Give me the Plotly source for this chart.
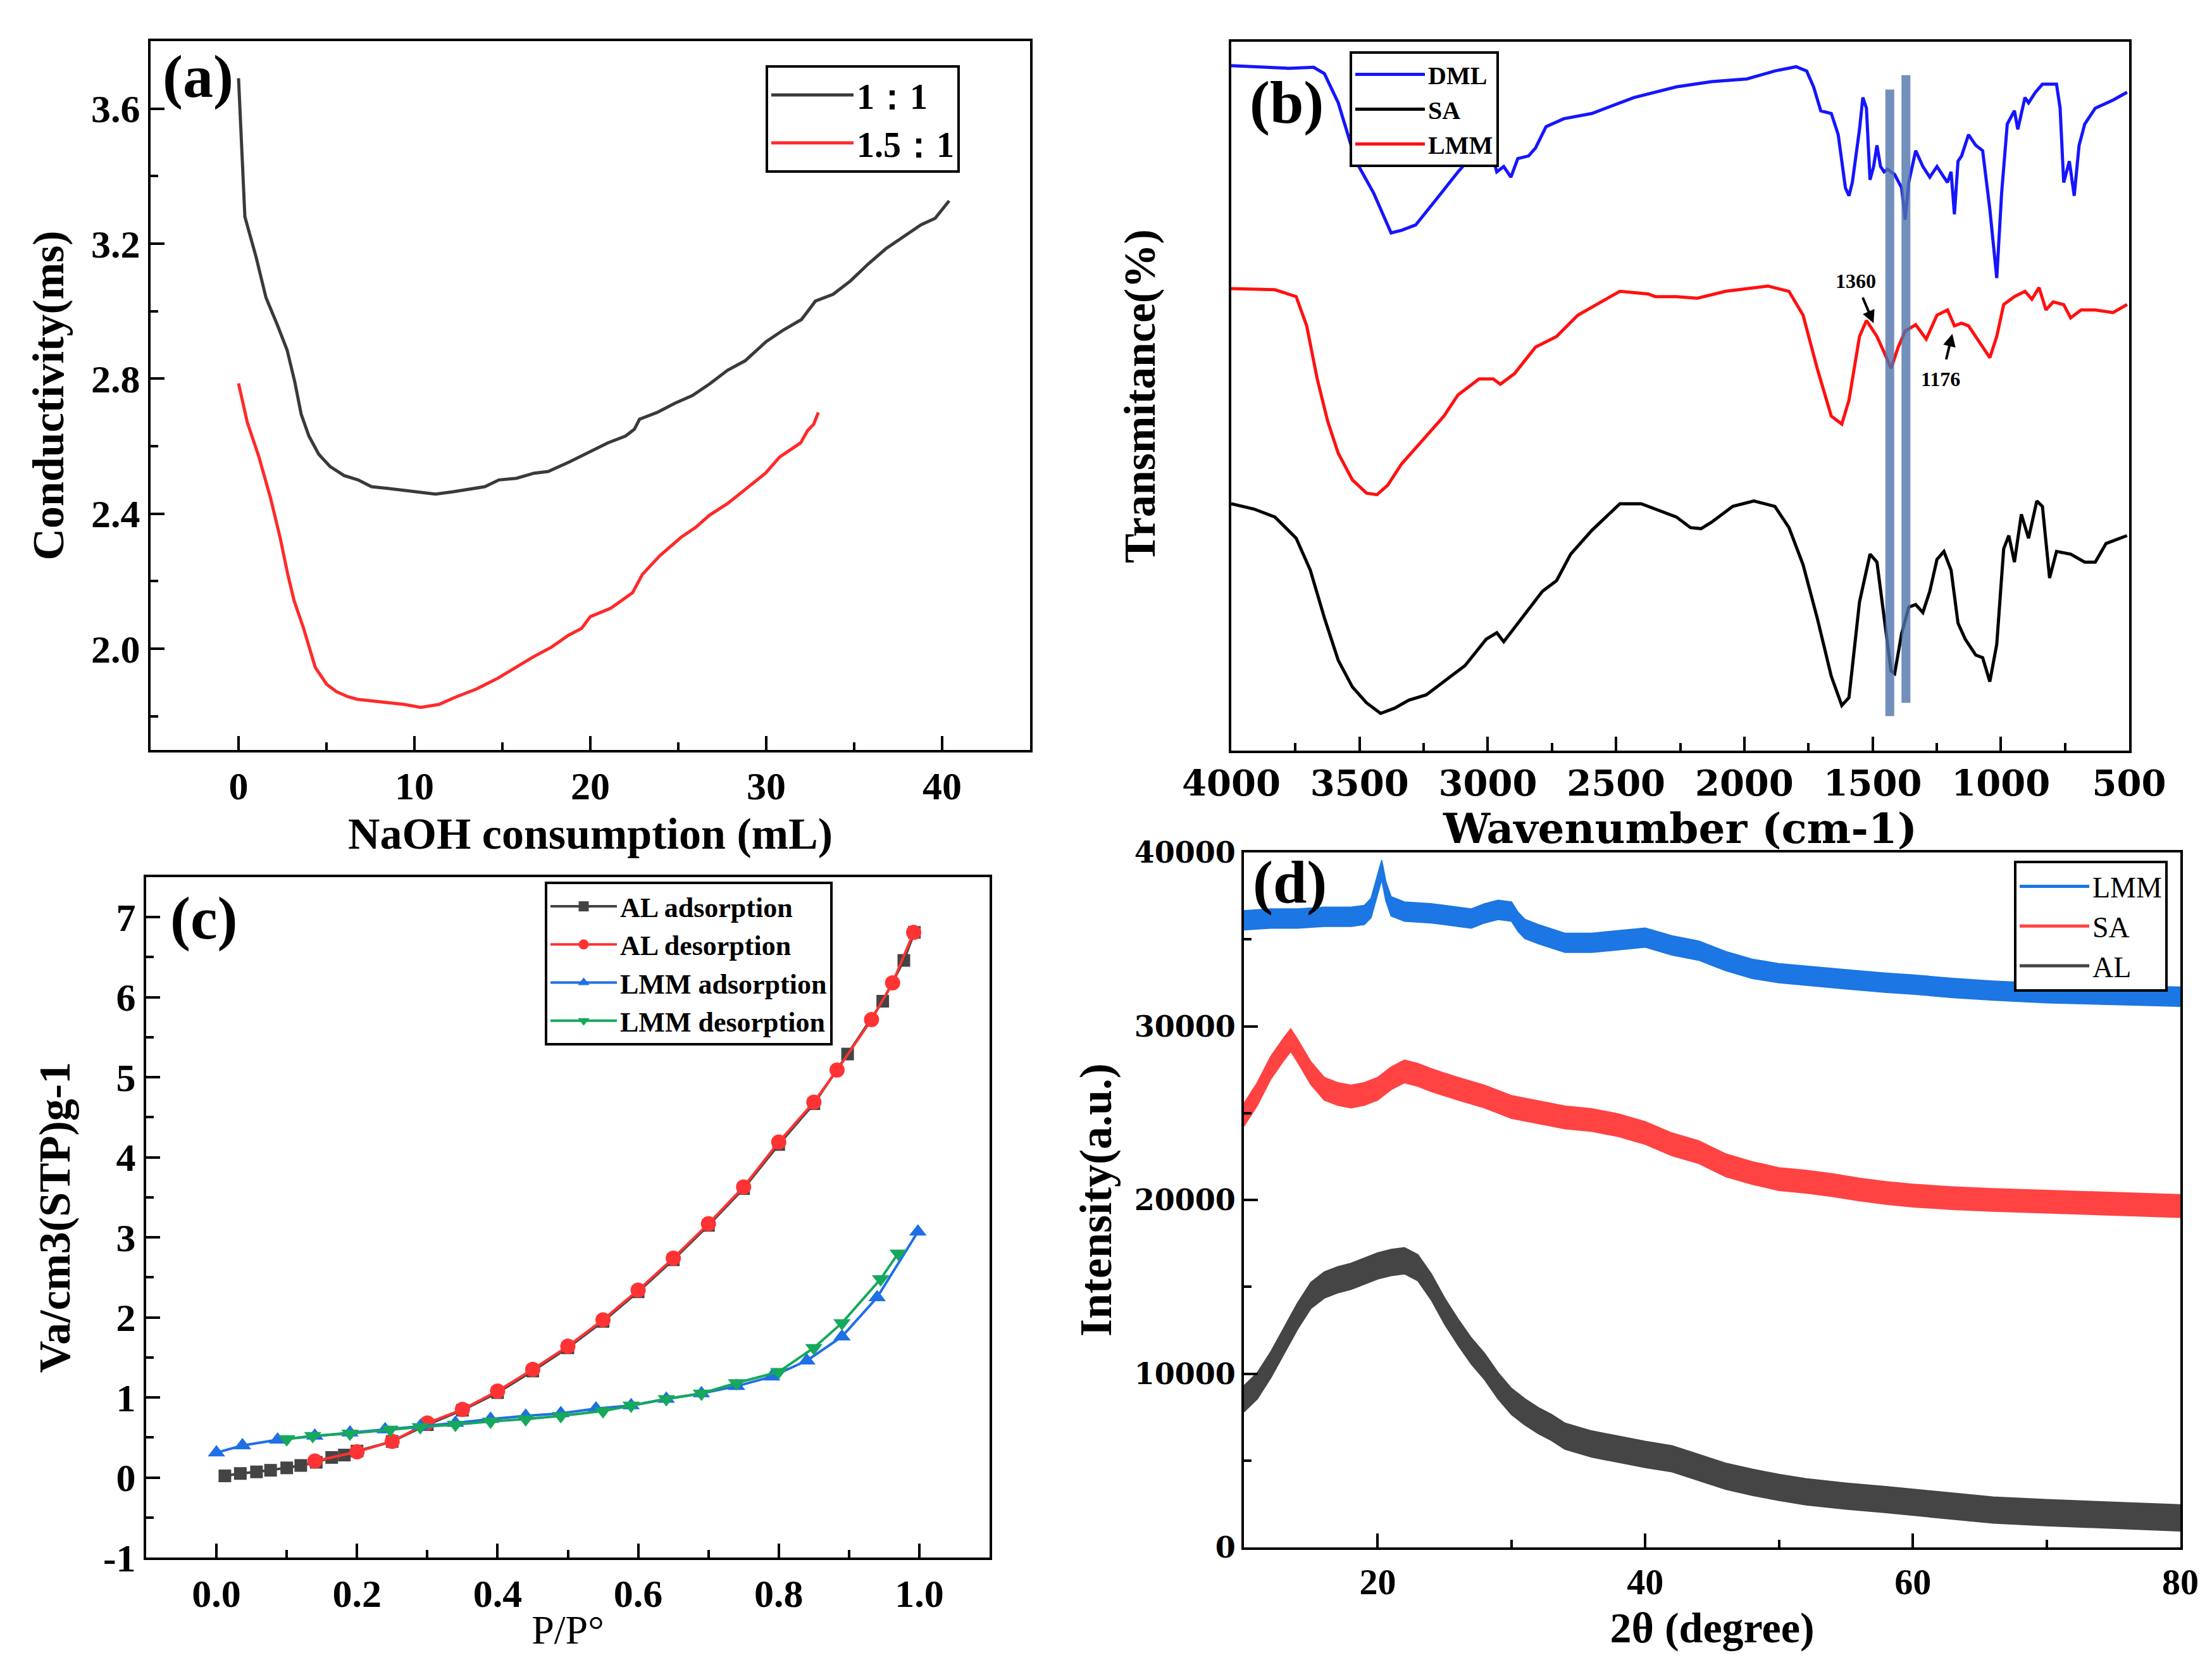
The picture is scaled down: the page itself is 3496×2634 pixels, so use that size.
import plotly.graph_objects as go

W, H = 3496, 2634
SERIF = "Liberation Serif"
WIDE = "DejaVu Serif"

# ---------------- (a) conductometric titration ----------------
a_x_11 = [0, 0.36, 1.0, 1.56, 2.2, 2.76, 3.2, 3.56, 4.0, 4.56, 5.2, 6.0, 6.8, 7.56, 8.5, 10.0,
          11.2, 12.2, 13.2, 14.0, 14.8, 15.8, 16.8, 17.6, 18.8, 20.0, 21.0, 22.0, 22.5, 22.8,
          23.8, 24.8, 25.8, 26.8, 27.8, 28.8, 30.0, 31.0, 32.0, 32.8, 33.8, 34.8, 35.8, 36.8,
          37.8, 38.8, 39.6, 40.4]
a_y_11 = [3.69, 3.28, 3.16, 3.04, 2.96, 2.885, 2.79, 2.695, 2.63, 2.576, 2.54, 2.513, 2.50,
          2.48, 2.475, 2.466, 2.458, 2.465, 2.474, 2.48, 2.50, 2.505, 2.52, 2.525, 2.553, 2.585,
          2.61, 2.63, 2.65, 2.68, 2.70, 2.727, 2.75, 2.785, 2.825, 2.853, 2.91, 2.945, 2.975,
          3.03, 3.05, 3.09, 3.14, 3.185, 3.22, 3.256, 3.275, 3.327]
a_x_151 = [0, 0.5, 1.16, 1.8, 2.36, 2.8, 3.16, 3.7, 4.36, 5.0, 5.56, 6.2, 6.76, 7.5, 8.36, 9.4,
           10.36, 11.4, 12.36, 13.5, 14.76, 15.8, 16.76, 17.8, 18.76, 19.5, 20.0, 21.16, 22.0,
           22.4, 22.96, 23.96, 25.16, 26.0, 26.76, 27.8, 28.76, 29.96, 30.76, 31.96, 32.36,
           32.7, 32.96]
a_y_151 = [2.786, 2.67, 2.568, 2.45, 2.33, 2.22, 2.142, 2.06, 1.945, 1.895, 1.873, 1.858, 1.85,
           1.846, 1.842, 1.835, 1.826, 1.835, 1.857, 1.88, 1.913, 1.945, 1.976, 2.005, 2.04,
           2.06, 2.095, 2.12, 2.15, 2.166, 2.22, 2.276, 2.33, 2.36, 2.395, 2.43, 2.47, 2.52,
           2.568, 2.61, 2.647, 2.665, 2.70]

# ---------------- (b) FTIR (arbitrary transmittance units) ----------------
dml_wn = [4000, 3912, 3775, 3679, 3637, 3583, 3514, 3445, 3377, 3336, 3281, 3198, 3116, 3034,
          2992, 2965, 2938, 2910, 2883, 2841, 2814, 2773, 2704, 2594, 2540, 2430, 2265, 2128,
          1990, 1881, 1798, 1757, 1730, 1702, 1661, 1634, 1606, 1592, 1579, 1551, 1538, 1524,
          1510, 1496, 1483, 1469, 1455, 1442, 1414, 1387, 1373, 1359, 1332, 1304, 1277, 1249,
          1222, 1208, 1194, 1181, 1167, 1153, 1126, 1098, 1071, 1043, 1016, 997, 975, 947, 934,
          906, 892, 865, 838, 783, 769, 755, 733, 714, 695, 673, 632, 563, 508]
dml_t = [129, 128.8, 128.5, 128.7, 127.5, 122, 111, 105, 97.5, 98, 99, 104, 109, 113.5, 113.8,
         109, 110, 108, 111.5, 112, 113.5, 117.5, 119, 120, 121, 123, 125, 126, 126.5, 128,
         128.8, 128, 125, 120.5, 120, 116, 106, 104.5, 107, 117, 123, 121, 107.5, 110, 114,
         110, 109, 109.5, 108.5, 106, 100, 107, 113, 110, 108, 110, 108, 107, 109, 101, 111,
         112, 116, 114, 113, 102, 89, 105, 118, 120.5, 117, 123, 122, 124, 125.5, 125.5, 121,
         107, 111, 104.5, 114, 118, 121, 122.5, 124]
lmm_wn = [4000, 3830, 3747, 3706, 3665, 3624, 3583, 3528, 3473, 3432, 3390, 3336, 3281, 3226,
          3171, 3116, 3034, 2979, 2951, 2896, 2814, 2732, 2649, 2540, 2485, 2375, 2347, 2265,
          2183, 2073, 1908, 1826, 1771, 1716, 1661, 1620, 1592, 1551, 1524, 1510, 1483, 1455,
          1428, 1400, 1373, 1332, 1291, 1249, 1208, 1181, 1153, 1126, 1085, 1043, 1016, 989,
          947, 906, 879, 851, 824, 796, 755, 728, 687, 632, 563, 508]
lmm_t = [87, 86.8, 85.5, 80, 70, 62, 56, 51, 48.5, 48.2, 50, 54, 57, 60, 63, 67, 70, 70, 69, 71,
         76, 78, 82, 85, 86.5, 86, 85.5, 85.5, 85.2, 86.5, 87.5, 86.5, 82, 72, 63, 61.5, 66, 78,
         81, 80, 78, 75, 72, 76, 79, 80.2, 77.5, 82, 83, 80, 80.5, 80, 77, 74, 78, 84, 85.5,
         86.5, 85, 87.2, 83, 84.5, 84, 81.5, 83, 83, 82.5, 84]
sa_wn = [4000, 3912, 3830, 3747, 3692, 3637, 3583, 3528, 3473, 3418, 3363, 3308, 3240, 3171,
         3089, 3006, 2965, 2938, 2883, 2828, 2787, 2732, 2677, 2594, 2540, 2485, 2402, 2347,
         2265, 2210, 2169, 2128, 2045, 1963, 1881, 1826, 1771, 1716, 1661, 1620, 1592, 1551,
         1510, 1483, 1455, 1428, 1414, 1387, 1359, 1332, 1304, 1277, 1249, 1222, 1194, 1167,
         1139, 1098, 1071, 1043, 1016, 989, 969, 947, 920, 892, 860, 838, 810, 783, 728, 673,
         632, 590, 508]
sa_t = [46.5, 45.5, 44, 40, 34, 25, 17, 12, 9, 7, 8, 9.5, 10.5, 13, 16, 21, 22.2, 20.5, 24,
        27.5, 30, 32, 37, 41.5, 44, 46.5, 46.5, 45.5, 44, 42, 41.8, 43, 46, 47, 46, 42, 35, 25,
        14, 8.5, 10, 28, 37, 35.5, 25, 15, 14.5, 22, 27, 27.5, 26, 30, 36, 37.5, 34, 24, 21, 18,
        17.5, 13, 20, 38, 40.5, 35.5, 44.5, 40, 47, 46, 32.5, 37.5, 37, 35.5, 35.5, 39, 40.5]
band_wn = [1433, 1370]
band_low = [6.5, 9.0]
band_high = [124.5, 127.2]

# ---------------- (c) N2 isotherms ----------------
al_ads_p = [0.012, 0.034, 0.057, 0.077, 0.10, 0.12, 0.142, 0.164, 0.182, 0.20, 0.25, 0.30,
            0.35, 0.40, 0.45, 0.50, 0.55, 0.60, 0.65, 0.70, 0.75, 0.80, 0.85, 0.898, 0.948,
            0.978, 0.993]
al_ads_v = [0.02, 0.05, 0.07, 0.09, 0.12, 0.15, 0.19, 0.25, 0.28, 0.33, 0.45, 0.66, 0.84, 1.06,
            1.33, 1.62, 1.95, 2.32, 2.72, 3.15, 3.61, 4.16, 4.67, 5.29, 5.95, 6.46, 6.81]
al_des_p = [0.14, 0.20, 0.25, 0.30, 0.35, 0.40, 0.45, 0.50, 0.55, 0.60, 0.65, 0.70, 0.75, 0.80,
            0.85, 0.883, 0.932, 0.962, 0.992]
al_des_v = [0.205, 0.32, 0.45, 0.68, 0.85, 1.08, 1.35, 1.64, 1.97, 2.34, 2.74, 3.17, 3.63,
            4.19, 4.69, 5.09, 5.72, 6.18, 6.81]
lmm_ads_p = [0.0, 0.037, 0.087, 0.14, 0.19, 0.24, 0.29, 0.34, 0.39, 0.44, 0.49, 0.54, 0.59,
             0.64, 0.69, 0.74, 0.79, 0.84, 0.89, 0.94, 0.998]
lmm_ads_v = [0.31, 0.40, 0.47, 0.52, 0.56, 0.60, 0.64, 0.68, 0.73, 0.77, 0.80, 0.86, 0.90,
             0.98, 1.05, 1.14, 1.26, 1.46, 1.76, 2.25, 3.07]
lmm_des_p = [0.10, 0.137, 0.19, 0.247, 0.29, 0.34, 0.39, 0.44, 0.49, 0.55, 0.59, 0.64, 0.69,
             0.74, 0.80, 0.85, 0.89, 0.945, 0.97]
lmm_des_v = [0.48, 0.52, 0.55, 0.60, 0.63, 0.66, 0.70, 0.73, 0.77, 0.83, 0.90, 0.98, 1.05,
             1.18, 1.32, 1.62, 1.93, 2.48, 2.80]
c_ytick_vals = [-1, 0, 1, 2, 3, 4, 5, 6, 7]
c_ytick_text = ["-1", "0", "1", "2", "3", "4", "5", "6", "7"]

# ---------------- (d) XRD ----------------
xrd_lmm_x = [10, 12, 14, 16, 18, 19, 19.5, 20, 20.3, 20.6, 21, 22, 24, 26, 27, 28, 29, 30, 30.5,
             31, 32, 34, 36, 38, 40, 42, 44, 46, 48, 50, 52, 55, 58, 60, 63, 66, 70, 75, 80]
xrd_lmm_y = [36100, 36200, 36200, 36300, 36300, 36400, 36800, 38200, 39000, 37800, 36900, 36600,
             36500, 36300, 36200, 36500, 36700, 36600, 36000, 35600, 35300, 34800, 34800, 34950,
             35100, 34650, 34350, 33750, 33300, 33050, 32900, 32700, 32500, 32400, 32200, 32050,
             31900, 31800, 31700]
xrd_sa_x = [10, 11, 12, 13, 13.5, 14, 15, 16, 17, 18, 19, 20, 21, 22, 23, 24, 26, 28, 30, 32, 34,
            36, 38, 40, 42, 44, 46, 48, 50, 52, 54, 56, 58, 60, 63, 66, 70, 75, 80]
xrd_sa_y = [24900, 26100, 27600, 28700, 29200, 28600, 27300, 26400, 26100, 25950, 26100, 26400,
            27000, 27400, 27200, 26900, 26400, 25950, 25350, 25050, 24750, 24600, 24300, 23850,
            23200, 22750, 22000, 21550, 21200, 21050, 20850, 20600, 20400, 20250, 20100, 20000,
            19900, 19750, 19650]
xrd_al_x = [10, 11, 12, 13, 14, 15, 16, 17, 18, 19, 20, 21, 22, 23, 24, 25, 26, 27, 28, 29, 30,
            31, 32, 33, 34, 36, 38, 40, 42, 44, 46, 48, 50, 52, 55, 58, 60, 63, 66, 70, 75, 80]
xrd_al_y = [8550, 9300, 10500, 11900, 13300, 14500, 15100, 15400, 15600, 15900, 16200, 16400,
            16500, 16100, 15000, 13600, 12400, 11300, 10400, 9300, 8400, 7800, 7300, 6900, 6400,
            5950, 5650, 5350, 5100, 4600, 4100, 3750, 3450, 3200, 2950, 2750, 2600, 2400, 2150,
            2000, 1850, 1700]
xrd_noise_halfwidth = {"LMM": 550, "SA": 650, "AL": 750}


def px(x):
    return x / W


def py(y):
    return 1 - y / H


def axis(domain, anchor, **kw):
    d = dict(domain=domain, anchor=anchor, showline=True, linecolor="black", linewidth=4,
             mirror=True, ticks="inside", ticklen=22, tickwidth=4, tickcolor="black",
             showgrid=False, zeroline=False, automargin=False,
             tickfont=dict(family=SERIF, size=62, color="black", weight="bold"),
             minor=dict(ticks="inside", ticklen=12, tickwidth=4, tickcolor="black",
                        showgrid=False))
    d.update(kw)
    return d


def title(text, size=70, standoff=15, family=SERIF, weight="bold"):
    return dict(text=text, standoff=standoff,
                font=dict(family=family, size=size, color="black", weight=weight))


fig = go.Figure()

# (a)
fig.add_trace(go.Scatter(x=a_x_11, y=a_y_11, mode="lines", name="1：1",
                         line=dict(color="#3a3a3a", width=5), xaxis="x", yaxis="y",
                         legend="legend"))
fig.add_trace(go.Scatter(x=a_x_151, y=a_y_151, mode="lines", name="1.5：1",
                         line=dict(color="#ff2a2a", width=5), xaxis="x", yaxis="y",
                         legend="legend"))

# (b)
for wn, t, nm, col in [(dml_wn, dml_t, "DML", "#1515ff"), (sa_wn, sa_t, "SA", "#000000"),
                       (lmm_wn, lmm_t, "LMM", "#ff1010")]:
    fig.add_trace(go.Scatter(x=wn, y=t, mode="lines", name=nm, line=dict(color=col, width=5),
                             xaxis="x2", yaxis="y2", legend="legend2"))

# (c)
fig.add_trace(go.Scatter(x=al_ads_p, y=al_ads_v, mode="lines+markers", name="AL adsorption",
                         line=dict(color="#444444", width=4),
                         marker=dict(symbol="square", size=20, color="#444444"),
                         xaxis="x3", yaxis="y3", legend="legend3"))
fig.add_trace(go.Scatter(x=al_des_p, y=al_des_v, mode="lines+markers", name="AL desorption",
                         line=dict(color="#ff3333", width=4),
                         marker=dict(symbol="circle", size=24, color="#ff3333"),
                         xaxis="x3", yaxis="y3", legend="legend3"))
fig.add_trace(go.Scatter(x=lmm_ads_p, y=lmm_ads_v, mode="lines+markers", name="LMM adsorption",
                         line=dict(color="#1f6fe5", width=4),
                         marker=dict(symbol="triangle-up", size=24, color="#1f6fe5"),
                         xaxis="x3", yaxis="y3", legend="legend3"))
fig.add_trace(go.Scatter(x=lmm_des_p, y=lmm_des_v, mode="lines+markers", name="LMM desorption",
                         line=dict(color="#16a85c", width=4),
                         marker=dict(symbol="triangle-down", size=24, color="#16a85c"),
                         xaxis="x3", yaxis="y3", legend="legend3"))

# (d)
for xs, ys, nm, col in [(xrd_lmm_x, xrd_lmm_y, "LMM", "#1c76e3"),
                        (xrd_sa_x, xrd_sa_y, "SA", "#ff4343"),
                        (xrd_al_x, xrd_al_y, "AL", "#454545")]:
    hw = xrd_noise_halfwidth[nm]
    fig.add_trace(go.Scatter(x=xs, y=[v - hw for v in ys], mode="lines",
                             line=dict(color=col, width=2), showlegend=False,
                             xaxis="x4", yaxis="y4", hoverinfo="skip"))
    fig.add_trace(go.Scatter(x=xs, y=[v + hw for v in ys], mode="lines", fill="tonexty",
                             fillcolor=col, line=dict(color=col, width=2), showlegend=False,
                             xaxis="x4", yaxis="y4"))
    fig.add_trace(go.Scatter(x=[None], y=[None], mode="lines", name=nm,
                             line=dict(color=col, width=5), xaxis="x4", yaxis="y4",
                             legend="legend4"))

# band shapes for (b)
shapes = []
for wn, lo, hi in zip(band_wn, band_low, band_high):
    shapes.append(dict(type="line", xref="x2", yref="y2", x0=wn, x1=wn, y0=lo, y1=hi,
                       line=dict(color="rgba(80,115,170,0.8)", width=14), layer="above"))

annotations = []
for lab, cx, cy in [("(a)", 305, 112), ("(b)", 2025, 153), ("(c)", 314, 1443),
                    ("(d)", 2030, 1385)]:
    annotations.append(dict(text="<b>" + lab + "</b>", xref="paper", yref="paper", x=px(cx),
                            y=py(cy), xanchor="center", yanchor="middle", showarrow=False,
                            font=dict(family=SERIF, size=96, color="black")))
# FTIR peak labels
annotations.append(dict(text="<b>1360</b>", xref="x2", yref="y2", x=1565, y=88.5,
                        showarrow=False, font=dict(family=SERIF, size=32, color="black")))
annotations.append(dict(text="", xref="x2", yref="y2", x=1496, y=80.5, ax=1540, ay=85.5,
                        axref="x2", ayref="y2", showarrow=True, arrowhead=2, arrowsize=1,
                        arrowwidth=4, arrowcolor="black"))
annotations.append(dict(text="<b>1176</b>", xref="x2", yref="y2", x=1236, y=70.0,
                        showarrow=False, font=dict(family=SERIF, size=32, color="black")))
annotations.append(dict(text="", xref="x2", yref="y2", x=1189, y=78.5, ax=1214, ay=73.5,
                        axref="x2", ayref="y2", showarrow=True, arrowhead=2, arrowsize=1,
                        arrowwidth=4, arrowcolor="black"))

legend_common = dict(bgcolor="white", bordercolor="black", borderwidth=4,
                     xanchor="left", yanchor="top", tracegroupgap=0, traceorder="normal")

fig.update_layout(
    width=W, height=H, paper_bgcolor="white", plot_bgcolor="white",
    margin=dict(l=0, r=0, t=0, b=0, autoexpand=False),
    xaxis=axis([px(230), px(1620)], "y", range=[-5, 45], dtick=10, tick0=0,
               title=title("NaOH consumption (mL)", 70, 18)),
    yaxis=axis([py(1177), py(57)], "x", range=[1.7, 3.8],
               tickvals=[2.0, 2.4, 2.8, 3.2, 3.6], ticktext=["2.0", "2.4", "2.8", "3.2", "3.6"],
               title=title("Conductivity(ms)", 70, 22)),
    xaxis2=axis([px(1938), px(3357)], "y2", range=[4000, 500], dtick=500, tick0=0,
                tickfont=dict(family=WIDE, size=56, color="black", weight="bold"),
                title=title("Wavenumber (cm-1)", 66, 2, family=WIDE)),
    yaxis2=axis([py(1178), py(58)], "x2", range=[0, 133.5], showticklabels=False, ticks="",
                title=title("Transmitance(%)", 70, 95)),
    xaxis3=axis([px(223), px(1556)], "y3", range=[-0.1, 1.1], dtick=0.2, tick0=0,
                tickformat=".1f", title=title("P/P°", 64, 2, weight="normal")),
    yaxis3=axis([py(2453), py(1378)], "x3", range=[-1, 7.5], tickvals=c_ytick_vals,
                ticktext=c_ytick_text, title=title("Va/cm3(STP)g-1", 70, 30)),
    xaxis4=axis([px(1958), px(3438)], "y4", range=[10, 80], dtick=20, tick0=0,
                tickfont=dict(family=SERIF, size=58, color="black", weight="bold"),
                title=title("2θ (degree)", 68, 18)),
    yaxis4=axis([py(2437), py(1339)], "x4", range=[0, 40000], dtick=10000, tick0=0,
                tickformat="d",
                tickfont=dict(family=WIDE, size=46, color="black", weight="bold"),
                title=title("Intensity(a.u.)", 72, 14)),
    legend=dict(x=px(1202), y=py(95), font=dict(family=SERIF, size=56, color="black",
                                                 weight="bold"), itemwidth=130,
                **legend_common),
    legend2=dict(x=px(2125), y=py(73), font=dict(family=SERIF, size=40, color="black",
                                                  weight="bold"), itemwidth=110,
                 **legend_common),
    legend3=dict(x=px(853), y=py(1385), font=dict(family=SERIF, size=44, color="black",
                                                   weight="bold"), itemwidth=105,
                 **legend_common),
    legend4=dict(x=px(3175), y=py(1352), font=dict(family=SERIF, size=46, color="black"),
                 itemwidth=110, **legend_common),
    shapes=shapes,
    annotations=annotations,
    showlegend=True,
)

# minor tick spacing per axis
fig.layout.xaxis.minor.dtick = 5
fig.layout.yaxis.minor.dtick = 0.2
fig.layout.yaxis.minor.tick0 = 2.0
fig.layout.xaxis2.minor.dtick = 250
fig.layout.yaxis2.minor.ticks = ""
fig.layout.xaxis3.minor.dtick = 0.1
fig.layout.yaxis3.minor.dtick = 0.5
fig.layout.yaxis3.minor.tick0 = 0
fig.layout.xaxis4.minor.dtick = 10
fig.layout.yaxis4.minor.dtick = 5000

fig.write_html("out.html")
